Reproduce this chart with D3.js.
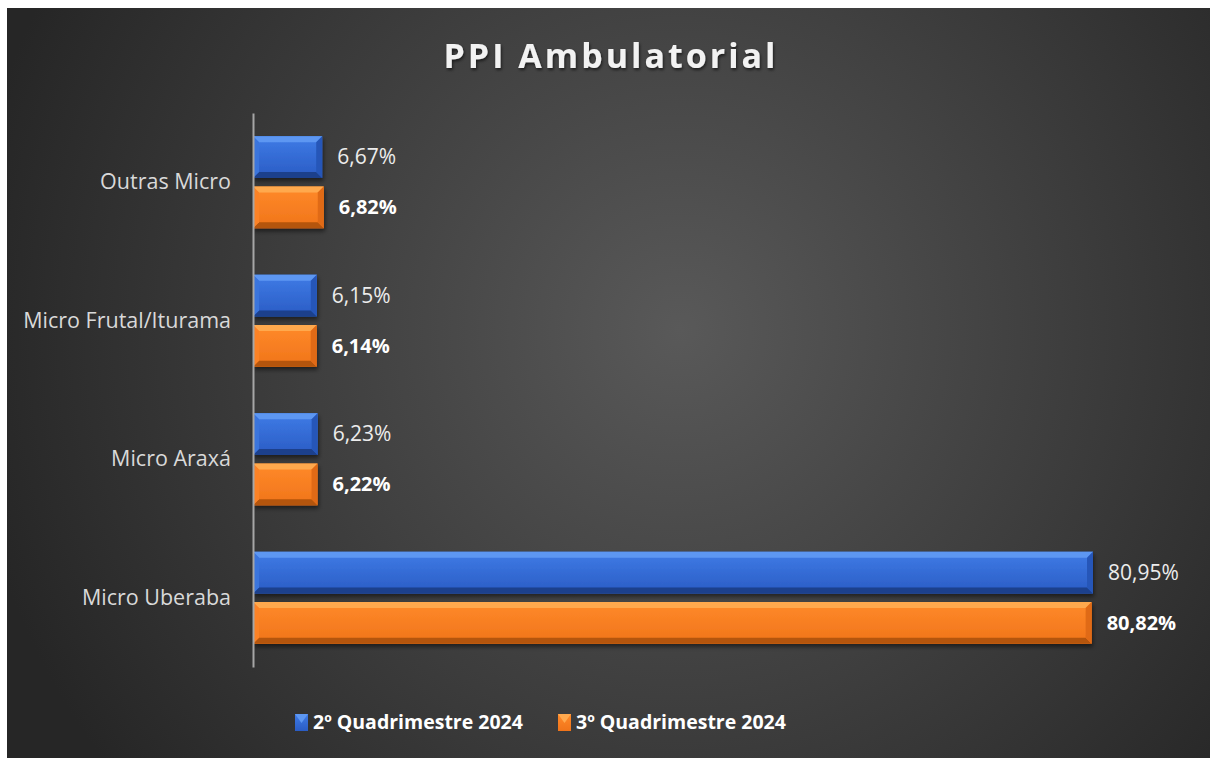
<!DOCTYPE html>
<html>
<head>
<meta charset="utf-8">
<script src="https://cdn.jsdelivr.net/npm/d3@7"></script>
<style>
  body { margin: 0; background: #fff; }
  svg { display: block; font-family: "Open Sans", "Noto Sans", sans-serif; }
</style>
</head>
<body>
<svg id="chart" width="1211" height="758"></svg>
<script>
const categories = ['Outras Micro', 'Micro Frutal/Iturama', 'Micro Araxá', 'Micro Uberaba'];
const seriesNames = ['2º Quadrimestre 2024', '3º Quadrimestre 2024'];
const q2Values = [6.67, 6.15, 6.23, 80.95];
const q3Values = [6.82, 6.14, 6.22, 80.82];

const COLORS = [
  { id: 'gBlue', hi: '#3f7be6', lo: '#2a5cc4', top: '#5d97f2', dark: '#1b418c', side: '#2657b8', left: '#3a74dc' },
  { id: 'gOrange', hi: '#ff8a2a', lo: '#f0741a', top: '#ffa94e', dark: '#b4540c', side: '#e06a14', left: '#fb8226' }
];

const svg = d3.select('#chart');
const W = 1211, H = 758;

const defs = svg.append('defs');
const bg = defs.append('radialGradient').attr('id', 'bg')
  .attr('gradientUnits', 'userSpaceOnUse')
  .attr('cx', 680).attr('cy', 330).attr('r', 720);
bg.append('stop').attr('offset', '0%').attr('stop-color', '#595959');
bg.append('stop').attr('offset', '100%').attr('stop-color', '#262626');
svg.append('rect').attr('x', 7).attr('y', 8).attr('width', W - 8).attr('height', H - 8).attr('fill', 'url(#bg)');

COLORS.forEach(c => {
  const g = defs.append('linearGradient').attr('id', c.id).attr('x1', 0).attr('y1', 0).attr('x2', 0).attr('y2', 1);
  g.append('stop').attr('offset', '0%').attr('stop-color', c.hi);
  g.append('stop').attr('offset', '100%').attr('stop-color', c.lo);
});

const shadow = defs.append('filter').attr('id', 'shadow').attr('x', '-5%').attr('y', '-20%').attr('width', '115%').attr('height', '160%');
shadow.append('feDropShadow').attr('dx', 1).attr('dy', 3).attr('stdDeviation', 2).attr('flood-color', '#000').attr('flood-opacity', 0.5);
const tshadow = defs.append('filter').attr('id', 'tshadow');
tshadow.append('feDropShadow').attr('dx', 1).attr('dy', 2).attr('stdDeviation', 1.5).attr('flood-color', '#000').attr('flood-opacity', 0.6);

// title
svg.append('text').attr('x', 611).attr('y', 68).attr('text-anchor', 'middle')
  .attr('fill', '#f2f2f2').attr('font-size', 34).attr('font-weight', 'bold')
  .attr('letter-spacing', 3).attr('filter', 'url(#tshadow)').text('PPI Ambulatorial');

const x = d3.scaleLinear().domain([0, 80.95]).range([253, 1093]);
const y = d3.scaleBand().domain(categories).range([113, 667]).paddingInner(0.335).paddingOuter(0.167);
const ySub = d3.scaleBand().domain([0, 1]).range([0, y.bandwidth()]).paddingInner(0.17);

const rows = categories.map((c, i) => ({ cat: c, vals: [q2Values[i], q3Values[i]] }));
const fmt = v => d3.format('.2f')(v).replace('.', ',') + '%';

const groups = svg.append('g').selectAll('g').data(rows).join('g')
  .attr('transform', d => `translate(0,${y(d.cat)})`);

const bars = groups.selectAll('g.bar').data(d => d.vals.map((v, s) => ({ v, s }))).join('g')
  .attr('class', 'bar').attr('filter', 'url(#shadow)');

function bevel(d) {
  return { x0: x(0), x1: x(d.v), y0: ySub(d.s), y1: ySub(d.s) + ySub.bandwidth(), b: 6 };
}

bars.append('rect')
  .attr('x', d => x(0)).attr('y', d => ySub(d.s))
  .attr('width', d => x(d.v) - x(0)).attr('height', ySub.bandwidth())
  .attr('fill', d => `url(#${COLORS[d.s].id})`);
bars.append('polygon').attr('points', d => { const p = bevel(d); return `${p.x0},${p.y0} ${p.x1},${p.y0} ${p.x1 - p.b},${p.y0 + p.b} ${p.x0 + p.b},${p.y0 + p.b}`; })
  .attr('fill', d => COLORS[d.s].top);
bars.append('polygon').attr('points', d => { const p = bevel(d); return `${p.x0},${p.y1} ${p.x1},${p.y1} ${p.x1 - p.b},${p.y1 - p.b} ${p.x0 + p.b},${p.y1 - p.b}`; })
  .attr('fill', d => COLORS[d.s].dark);
bars.append('polygon').attr('points', d => { const p = bevel(d); return `${p.x0},${p.y0} ${p.x0 + p.b},${p.y0 + p.b} ${p.x0 + p.b},${p.y1 - p.b} ${p.x0},${p.y1}`; })
  .attr('fill', d => COLORS[d.s].left);
bars.append('polygon').attr('points', d => { const p = bevel(d); return `${p.x1},${p.y0} ${p.x1 - p.b},${p.y0 + p.b} ${p.x1 - p.b},${p.y1 - p.b} ${p.x1},${p.y1}`; })
  .attr('fill', d => COLORS[d.s].side);

// value labels
groups.selectAll('text.val').data(d => d.vals.map((v, s) => ({ v, s }))).join('text')
  .attr('class', 'val')
  .attr('x', d => x(d.v) + 15).attr('y', d => ySub(d.s) + ySub.bandwidth() / 2)
  .attr('dy', '0.35em').attr('fill', d => d.s === 0 ? '#ececec' : '#ffffff')
  .attr('font-size', d => d.s === 0 ? 21 : 20).attr('font-weight', d => d.s === 1 ? 'bold' : 'normal')
  .text(d => fmt(d.v));

// category axis
const axis = svg.append('g').attr('transform', `translate(${x(0)},0)`)
  .call(d3.axisLeft(y).tickSize(0).tickPadding(22));
axis.select('.domain').attr('stroke', '#a6a6a6').attr('stroke-width', 2);
axis.selectAll('text').attr('fill', '#d9d9d9').attr('font-size', 21.5)
  .attr('font-family', '"Open Sans", sans-serif');

// legend
const legendPos = [{ mx: 295, tx: 313 }, { mx: 558, tx: 576 }];
const legend = svg.append('g').selectAll('g').data(seriesNames).join('g');
legend.append('rect').attr('x', (d, i) => legendPos[i].mx).attr('y', 714)
  .attr('width', 13).attr('height', 17).attr('fill', (d, i) => `url(#${COLORS[i].id})`);
legend.append('polygon')
  .attr('points', (d, i) => { const mx = legendPos[i].mx; return `${mx},714 ${mx + 13},714 ${mx + 6.5},723`; })
  .attr('fill', (d, i) => COLORS[i].top);
legend.append('text').attr('x', (d, i) => legendPos[i].tx).attr('y', 722)
  .attr('dy', '0.35em').attr('fill', '#ffffff').attr('font-size', 19.5).attr('font-weight', 'bold')
  .text(d => d);
</script>
</body>
</html>
